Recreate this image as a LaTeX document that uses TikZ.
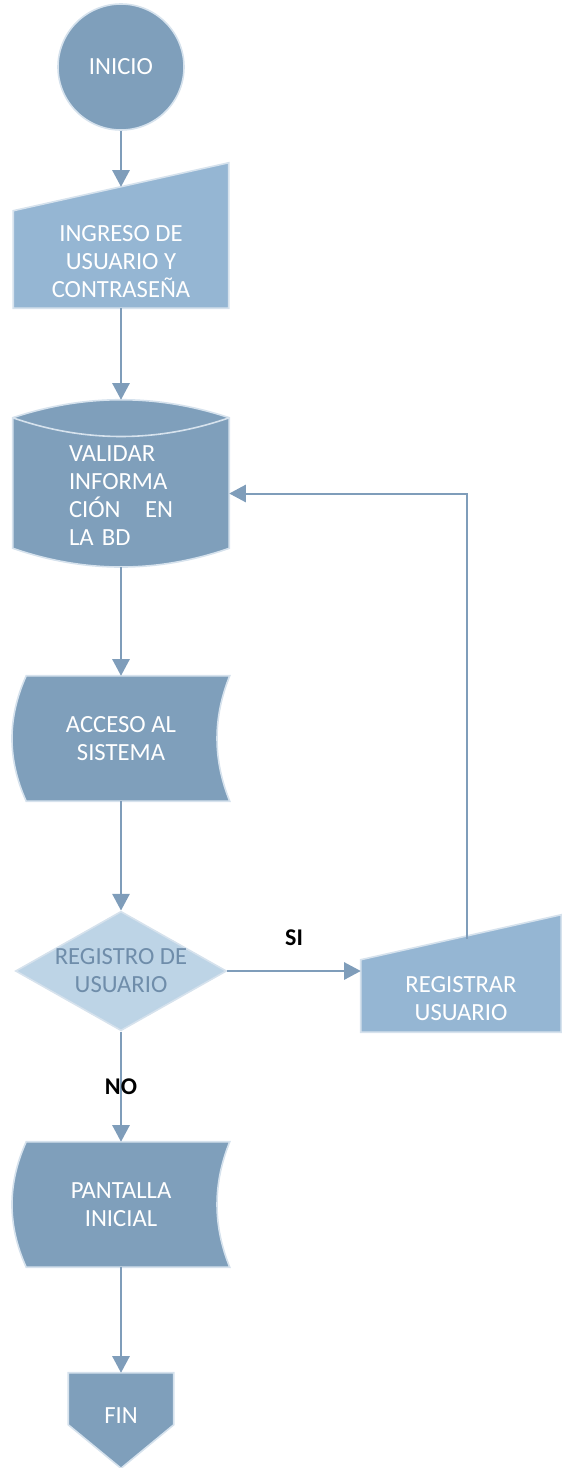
\documentclass[tikz,border=0pt]{standalone}
\usepackage{fontspec}
\setmainfont{Carlito}
\usetikzlibrary{arrows.meta,calc,shapes.geometric,backgrounds}
\definecolor{slate}{HTML}{7F9FBB}
\definecolor{sky}{HTML}{95B6D3}
\definecolor{mist}{HTML}{BDD4E6}
\definecolor{rim}{HTML}{D6E2ED}
\definecolor{wire}{HTML}{7F9DBA}
\definecolor{dimtext}{HTML}{6F8DAA}

\tikzset{
  flow/.style={draw=wire, line width=1.5pt, -{Triangle[length=12.5pt,width=13pt]}},
  box/.style={rectangle, inner sep=0pt, text=white, align=center, font=\fontsize{18.5}{21}\selectfont},
  skin/.style={draw=rim, line width=1.2pt},
  tag/.style={font=\fontsize{18}{21}\selectfont\bfseries, text=black},
}

\begin{document}
\begin{tikzpicture}[x=0.75pt, y=-0.75pt]
  \useasboundingbox (0,0) rectangle (561,1468);

  % steps of the flow
  \node[box, circle, fill=slate, skin, minimum size=94.5pt] (inicio) at (121,67) {INICIO};
  \node[box, minimum width=161.25pt, minimum height=90.75pt,
        label={[box, yshift=-10.5pt]center:{INGRESO DE\\USUARIO Y\\CONTRASEÑA}}] (ingreso) at (121,247.5) {};
  \node[box, minimum width=162pt, minimum height=125.25pt,
        label={[box, yshift=-9pt, text width=78pt, align=left]center:{VALIDAR\\INFORMA\\\makebox[78pt]{CIÓN\hfill EN}\\LA BD}}] (validar) at (121,483.5) {};
  \node[box, minimum width=162.75pt, minimum height=93.75pt] (acceso) at (121,738.5) {ACCESO AL\\SISTEMA};
  \node[box, diamond, shape aspect=1.76, fill=mist, skin, text=dimtext,
        minimum width=158.25pt, minimum height=88.5pt] (registro) at (121,971) {REGISTRO DE\\USUARIO};
  \node[box, minimum width=150pt, minimum height=70.9pt,
        label={[box, yshift=-10.5pt]center:{REGISTRAR\\USUARIO}}] (registrar) at (461,984.75) {};
  \node[box, minimum width=162.75pt, minimum height=93.75pt] (pantalla) at (121,1204.5) {PANTALLA\\INICIAL};
  \node[box, minimum width=78.75pt, minimum height=52.5pt,
        label={[box, yshift=-6pt]center:FIN}] (fin) at (121,1408) {};

  % outlines behind the texts
  \begin{pgfonlayer}{background}
    \path[fill=sky, skin] ($(ingreso.north west)+(0,24)$) -- ($(ingreso.north east)+(0,-24)$)
      -- (ingreso.south east) -- (ingreso.south west) -- cycle;
    \path[fill=slate, skin] ($(validar.north west)+(0,18)$) .. controls +(72,-24) and +(-72,-24) .. ($(validar.north east)+(0,18)$)
      -- ($(validar.south east)+(0,-19)$) .. controls +(-72,25) and +(72,25) .. ($(validar.south west)+(0,-19)$) -- cycle;
    \draw[skin] ($(validar.north west)+(0,18)$) .. controls +(72,25) and +(-72,25) .. ($(validar.north east)+(0,18)$);
    \foreach \n in {acceso,pantalla}
      \path[fill=slate, skin] ($(\n.north west)+(14,0)$) -- (\n.north east)
        .. controls +(-17,42) and +(-17,-42) .. (\n.south east) -- ($(\n.south west)+(14,0)$)
        .. controls +(-19,-42) and +(-19,42) .. ($(\n.north west)+(14,0)$) -- cycle;
    \path[fill=sky, skin] ($(registrar.north west)+(0,22.5)$) -- ($(registrar.north east)+(0,-22.5)$)
      -- (registrar.south east) -- (registrar.south west) -- cycle;
    \path[fill=slate, skin] (fin.north west) -- (fin.north east) -- ($(fin.north east)+(0,52)$)
      -- ($(fin.south)+(0,25)$) -- ($(fin.north west)+(0,52)$) -- cycle;
  \end{pgfonlayer}

  % connectors
  \draw[flow] (inicio) -- (ingreso);
  \draw[flow] (ingreso) -- (validar);
  \draw[flow] (validar) -- (acceso);
  \draw[flow] (acceso) -- (registro);
  \draw[flow] (registro) -- node[tag] {NO} (pantalla);
  \draw[flow] (pantalla) -- (fin);
  \draw[flow] (registro.east) -- (registro.east -| registrar.west)
    node[tag, midway, yshift=24.75pt] {SI};
  \draw[flow] ([xshift=4.5pt,yshift=-1pt]registrar.north) |- ([yshift=-7.5pt]validar.east);
\end{tikzpicture}
\end{document}
